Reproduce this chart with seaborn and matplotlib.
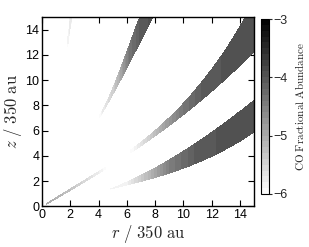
import numpy as np
import matplotlib
matplotlib.use("Agg")
import matplotlib.pyplot as plt
import seaborn as sns

# --- valores (r, z en unidades de 350 au; abundancia en log10) ---
# banda A: la de la izquierda, casi vertical
a_hi_r = [3.6, 4.3, 5.1, 5.7, 6.2, 6.9]
a_hi_z = [6.5, 7.6, 9.7, 11.4, 12.8, 15.0]
a_lo_r = [3.7, 4.4, 5.3, 6.15, 6.75, 7.85]
a_lo_z = [6.4, 7.5, 9.6, 11.3, 12.5, 15.0]
a_ab_r = [3.5, 4.3, 5.1, 5.7, 6.2, 7.0, 8.0, 8.5]
a_ab = [-6.5, -5.8, -5.4, -4.9, -4.4, -4.05, -3.95, -3.95]

# banda B: la del medio
b_hi_r = [0.0, 0.4, 4.2, 6.4, 9.75, 11.4, 13.0, 14.4]
b_hi_z = [0.0, 0.3, 2.85, 4.65, 7.9, 9.9, 12.5, 15.0]
b_lo_r = [0.0, 0.4, 4.2, 6.4, 9.75, 12.6, 15.0]
b_lo_z = [0.0, 0.2, 2.72, 4.5, 6.8, 9.9, 12.2]
b_ab_r = [0.3, 2.0, 4.2, 5.0, 5.8, 7.0, 8.5, 10.0, 11.5, 15.0]
b_ab = [-5.0, -5.3, -5.85, -6.3, -6.2, -5.7, -5.0, -4.4, -4.05, -3.9]

# banda C: la de abajo
c_hi_r = [0.0, 0.3, 5.14, 6.2, 9.75, 15.0]
c_hi_z = [0.0, 0.14, 1.5, 2.05, 4.2, 8.4]
c_lo_r = [0.0, 0.3, 5.14, 6.2, 9.75, 15.0]
c_lo_z = [0.0, 0.05, 1.38, 1.85, 2.9, 5.9]
c_ab_r = [0.3, 3.0, 5.0, 6.0, 7.5, 9.0, 11.0, 15.0]
c_ab = [-5.0, -5.5, -5.9, -5.85, -5.2, -4.5, -4.05, -3.9]

# banda D: trazo tenue arriba a la izquierda
d_hi_r = [1.5, 1.75, 2.05, 2.4]
d_hi_z = [10.4, 12.8, 15.2, 18.0]
d_lo_r = [1.58, 1.83, 2.13, 2.5]
d_lo_z = [10.4, 12.8, 15.2, 18.0]
d_ab_r = [1.7, 1.85, 2.1, 2.5]
d_ab = [-6.4, -5.85, -5.7, -5.7]

bandas = [
    (a_hi_r, a_hi_z, a_lo_r, a_lo_z, a_ab_r, a_ab),
    (b_hi_r, b_hi_z, b_lo_r, b_lo_z, b_ab_r, b_ab),
    (c_hi_r, c_hi_z, c_lo_r, c_lo_z, c_ab_r, c_ab),
    (d_hi_r, d_hi_z, d_lo_r, d_lo_z, d_ab_r, d_ab),
]

# --- malla ---
r = np.linspace(0, 15, 1200)
z = np.linspace(0, 15, 1200)
R, Z = np.meshgrid(r, z)
campo = np.full(R.shape, -7.0)
for hi_r, hi_z, lo_r, lo_z, ab_r, ab in bandas:
    # bordes suavizados con un ajuste cubico de los puntos leidos
    gr = min(3, len(hi_r) - 1)
    hi = np.polyval(np.polyfit(hi_r, hi_z, gr), R)
    lo = np.polyval(np.polyfit(lo_r, lo_z, gr), R)
    val = np.interp(R, ab_r, ab, left=-7, right=-7)
    dentro = (Z >= lo) & (Z <= hi)
    campo = np.where(dentro, np.maximum(campo, val), campo)

# --- estilo ---
sns.set_theme(style="ticks")
plt.rcParams["font.family"] = ["Liberation Sans", "DejaVu Sans"]
plt.rcParams["mathtext.fontset"] = "cm"
plt.rcParams["axes.unicode_minus"] = True

fig = plt.figure(figsize=(3.09, 2.47), dpi=100)
ax = fig.add_axes([0.136, 0.164, 0.686, 0.767])
cax = fig.add_axes([0.845, 0.215, 0.026, 0.708])

niveles = np.linspace(-6, -3, 31)
cs = ax.contourf(R, Z, campo, levels=niveles, cmap="gray_r")

ax.set_xlim(0, 15)
ax.set_ylim(0, 15)
ax.set_xticks(np.arange(0, 15, 2))
ax.set_yticks(np.arange(0, 15, 2))
ax.tick_params(direction="in", length=4, width=0.8, labelsize=9, pad=2,
               top=True, right=True, colors="black")
for s in ax.spines.values():
    s.set_linewidth(1.0)
    s.set_color("black")
ax.set_xlabel(r"$r\ /\ 350\ \mathrm{au}$", fontsize=12, labelpad=1)
ax.set_ylabel(r"$z\ /\ 350\ \mathrm{au}$", fontsize=12, labelpad=1)

cb = fig.colorbar(cs, cax=cax, ticks=[-6, -5, -4, -3])
cb.outline.set_linewidth(0.8)
cb.outline.set_edgecolor("black")
cax.tick_params(direction="out", length=2, width=0.8, labelsize=9, pad=1)
cb.set_label(r"$\mathrm{CO\ Fractional\ Abundance}$", fontsize=8, labelpad=4)

fig.savefig("out.png", dpi=100)
